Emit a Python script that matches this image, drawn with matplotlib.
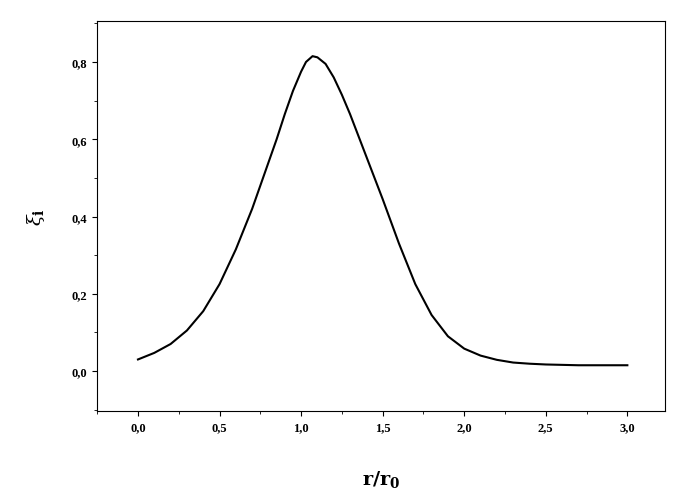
import matplotlib
matplotlib.use("Agg")
import matplotlib.pyplot as plt
from matplotlib.ticker import MultipleLocator, FuncFormatter

r = [0, 0.1, 0.2, 0.3, 0.4, 0.5, 0.6, 0.7, 0.8, 0.85, 0.9, 0.95, 1.0, 1.03, 1.07, 1.1, 1.15, 1.2, 1.25, 1.3, 1.4, 1.5, 1.6, 1.7, 1.8, 1.9, 2.0, 2.1, 2.2, 2.3, 2.4, 2.5, 2.7, 3.0]
xi = [0.03, 0.047, 0.07, 0.105, 0.155, 0.225, 0.315, 0.42, 0.54, 0.60, 0.665, 0.725, 0.775, 0.80, 0.815, 0.812, 0.795, 0.76, 0.715, 0.665, 0.555, 0.445, 0.33, 0.225, 0.145, 0.09, 0.058, 0.04, 0.029, 0.022, 0.019, 0.017, 0.015, 0.015]

plt.rcParams['font.family'] = ['Liberation Serif', 'DejaVu Serif']
plt.rcParams['mathtext.fontset'] = 'dejavuserif'
fig = plt.figure(figsize=(6.75, 4.89), dpi=100)
ax = fig.add_axes([0.144, 0.157, 0.841, 0.798])
ax.plot(r, xi, color='black', lw=1.5, solid_joinstyle='round')
ax.set_xlim(-0.25, 3.23)
ax.set_ylim(-0.104, 0.906)
ax.xaxis.set_major_locator(MultipleLocator(0.5))
ax.xaxis.set_minor_locator(MultipleLocator(0.25))
ax.yaxis.set_major_locator(MultipleLocator(0.2))
ax.yaxis.set_minor_locator(MultipleLocator(0.1))
fmt = FuncFormatter(lambda v, p: f"{v:.1f}".replace('.', ','))
ax.xaxis.set_major_formatter(fmt)
ax.yaxis.set_major_formatter(fmt)
for lab in ax.get_xticklabels() + ax.get_yticklabels():
    lab.set_fontweight('bold')
    lab.set_fontsize(9)
ax.tick_params(which='both', direction='out')
ax.set_xlabel(r'$\mathbf{r/r_0}$', fontsize=14, labelpad=25)
ax.set_ylabel(r'$\xi_\mathbf{i}$', fontsize=14, labelpad=18)
fig.savefig('out.png', dpi=100)
